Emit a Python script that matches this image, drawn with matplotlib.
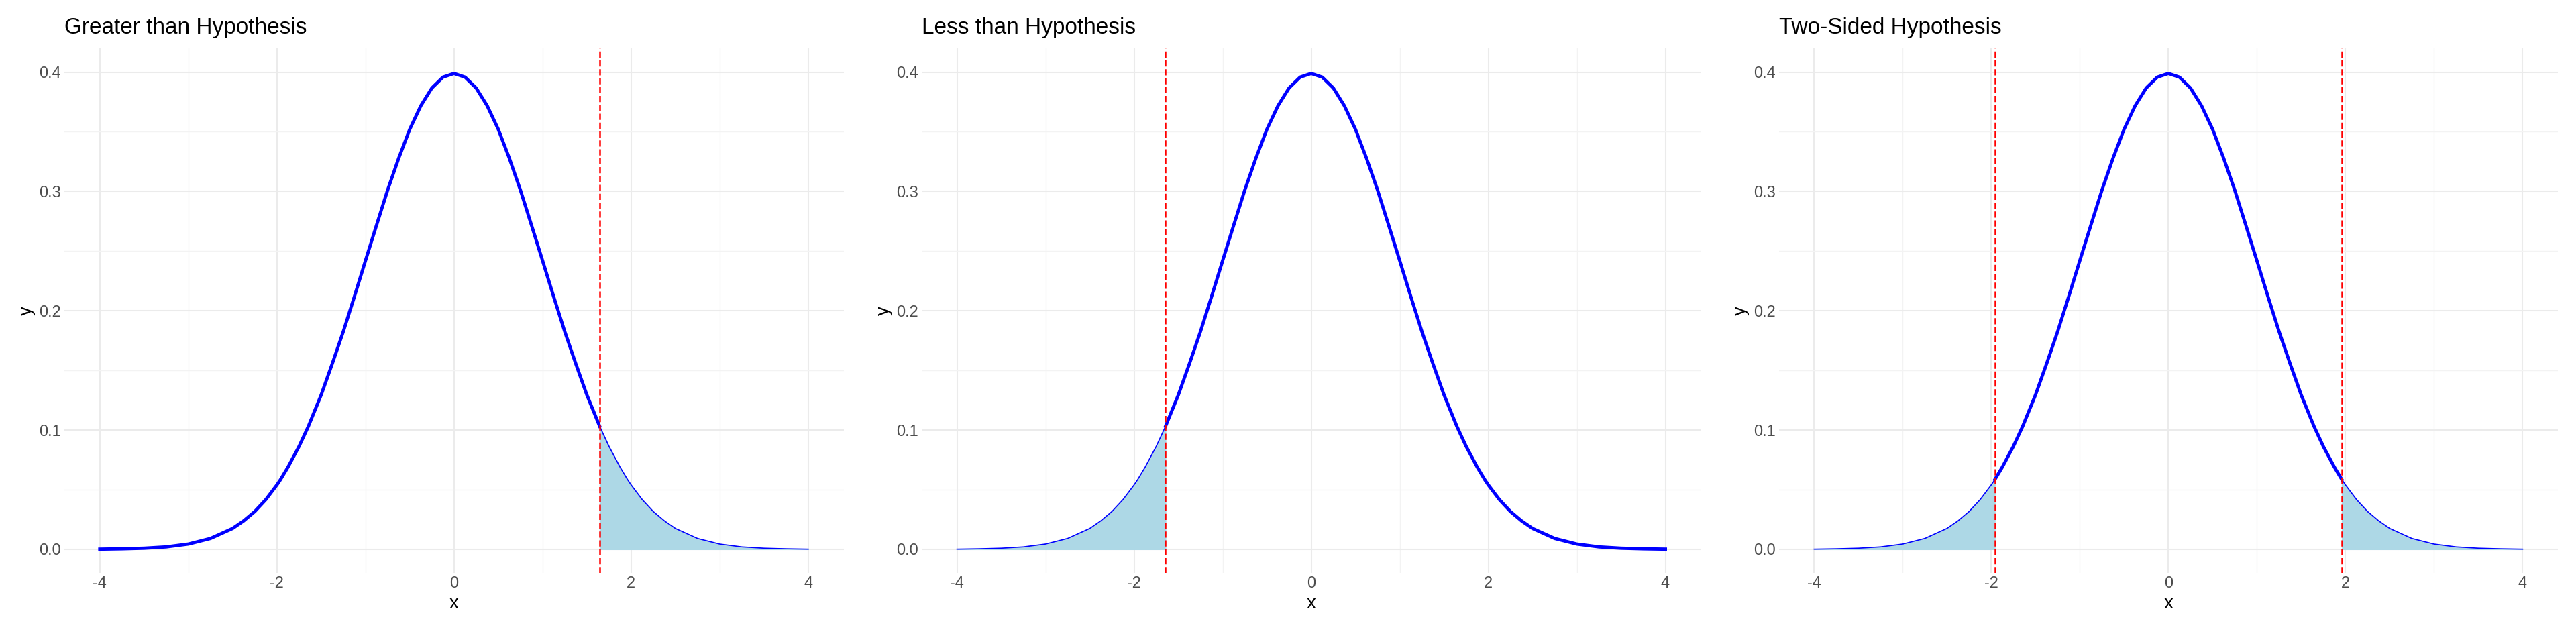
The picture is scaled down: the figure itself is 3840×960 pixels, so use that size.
import matplotlib.pyplot as plt
import numpy as np

plt.rcParams['font.family'] = ['Liberation Sans', 'DejaVu Sans']
plt.rcParams['axes.unicode_minus'] = False

# standard normal density (half grid, plus the cut points)
x_half = [0, 0.125, 0.25, 0.375, 0.5, 0.625, 0.75, 0.875, 1, 1.125, 1.25, 1.375, 1.5, 1.645, 1.75,
          1.875, 1.96, 2, 2.125, 2.25, 2.375, 2.5, 2.75, 3, 3.25, 3.5, 3.75, 4]
y_half = [0.3989, 0.3958, 0.3867, 0.3718, 0.3521, 0.3278, 0.3011, 0.2717, 0.2420, 0.2119, 0.1826,
          0.1556, 0.1295, 0.1031, 0.0863, 0.0689, 0.0584, 0.0540, 0.0417, 0.0317, 0.0239, 0.0175,
          0.0091, 0.0044, 0.0020, 0.0009, 0.0004, 0.0001]
x = np.array([-v for v in x_half[:0:-1]] + x_half)
y = np.array(y_half[:0:-1] + y_half)

titles = ["Greater than Hypothesis", "Less than Hypothesis", "Two-Sided Hypothesis"]
# rejection regions per panel as (lo, hi)
regions = [[(1.645, 4)], [(-4, -1.645)], [(-4, -1.96), (1.96, 4)]]
cuts = [[1.645], [-1.645], [-1.96, 1.96]]

fig, axes = plt.subplots(1, 3, figsize=(38.4, 9.6), dpi=100)
fig.subplots_adjust(left=0.025, right=0.993, top=0.925, bottom=0.11, wspace=0.1)

for ax, title, reg, cut in zip(axes, titles, regions, cuts):
    inside = np.ones_like(x, dtype=bool)
    for lo, hi in reg:
        m = (x >= lo - 1e-9) & (x <= hi + 1e-9)
        ax.fill_between(x[m], 0, y[m], color="lightblue", zorder=2)
        ax.plot(x[m], y[m], color="blue", lw=1.2, zorder=3)
        inside &= ~((x > lo + 1e-9) & (x < hi - 1e-9))
    # thick curve over non-rejection part
    ys = y.astype(float).copy()
    ys[~inside] = np.nan
    ax.plot(x, ys, color="blue", lw=3.5, zorder=4)
    for c in cut:
        ax.axvline(c, color="red", ls="--", lw=1.8, zorder=5)
    ax.set_title(title, loc="left", fontsize=24, pad=16)
    ax.set_xlabel("x", fontsize=20)
    ax.set_ylabel("y", fontsize=20)
    ax.set_xlim(-4.4, 4.4)
    ax.set_ylim(-0.02, 0.42)
    ax.set_xticks([-4, -2, 0, 2, 4])
    ax.set_xticks([-3, -1, 1, 3], minor=True)
    ax.set_yticks([0, 0.1, 0.2, 0.3, 0.4])
    ax.set_yticks([0.05, 0.15, 0.25, 0.35], minor=True)
    ax.set_yticklabels(["0.0", "0.1", "0.2", "0.3", "0.4"])
    ax.grid(which="major", color="#ebebeb", lw=1.5)
    ax.grid(which="minor", color="#f3f3f3", lw=1)
    ax.tick_params(which="both", length=0, labelsize=17, labelcolor="#4d4d4d")
    for s in ax.spines.values():
        s.set_visible(False)
    ax.set_axisbelow(True)

fig.savefig("out.png")
